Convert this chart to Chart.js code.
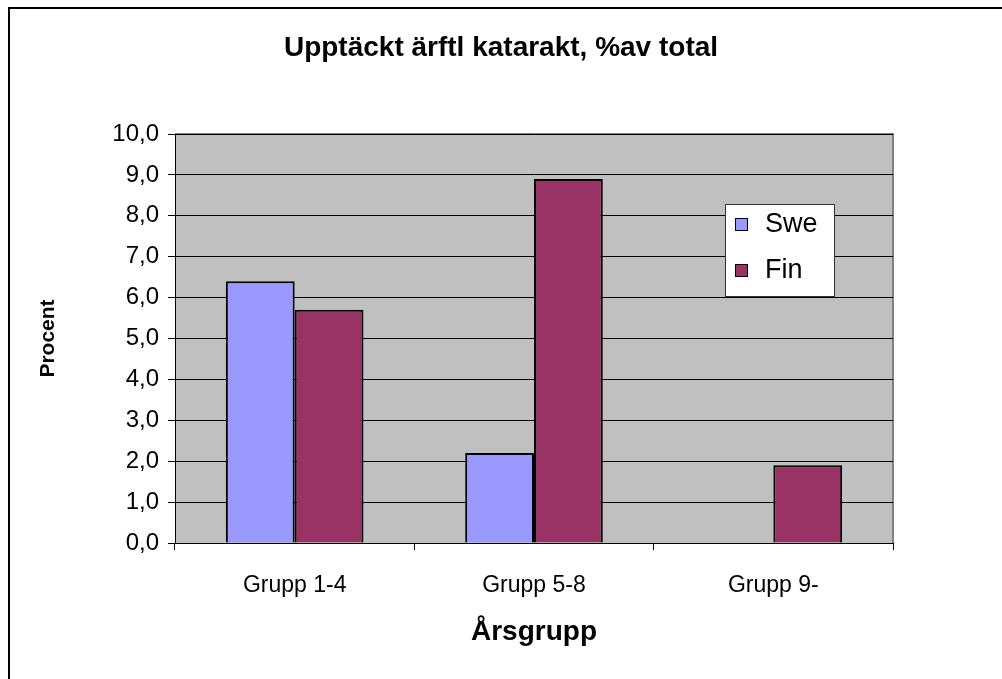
<!DOCTYPE html>
<html>
<head>
<meta charset="utf-8">
<script src="https://cdn.jsdelivr.net/npm/chart.js@4/dist/chart.umd.min.js"></script>
<style>
  body { margin: 0; background: #fff; }
  #wrap { position: relative; width: 1002px; height: 679px; }
  #frame { position: absolute; left: 8px; top: 7px; width: 1010px; height: 700px; border-left: 2px solid #000; border-top: 2px solid #000; }
  canvas { position: absolute; left: 0; top: 0; }
</style>
</head>
<body>
<div id="wrap">
  <div id="frame"></div>
  <canvas id="myChart" width="1002" height="679"></canvas>
</div>
<script>
// data läst från bilden
const grupper = ['Grupp 1-4', 'Grupp 5-8', 'Grupp 9-'];
const swe = [6.4, 2.2, null];
const fin = [5.7, 8.9, 1.9];
const serieNamn = ['Swe', 'Fin'];
const serieFarg = ['#9999FF', '#993366'];
const rubrik = 'Upptäckt ärftl katarakt, %av total';

const FONT = "'Liberation Sans', Arial, sans-serif";

// grå bakgrund i ritytan
const bakgrund = {
    id: 'bakgrund',
    beforeDraw(chart) {
        const a = chart.chartArea;
        const c = chart.ctx;
        c.save();
        c.fillStyle = '#C0C0C0';
        c.fillRect(a.left, a.top, a.right - a.left, a.bottom - a.top);
        c.strokeStyle = '#808080';
        c.lineWidth = 2;
        c.beginPath();
        c.moveTo(a.left, a.top);
        c.lineTo(a.right, a.top);
        c.lineTo(a.right, a.bottom);
        c.stroke();
        c.restore();
    }
};

// rubriken centrerad över hela bilden
const titel = {
    id: 'titel',
    afterDraw(chart) {
        const c = chart.ctx;
        c.save();
        c.font = 'bold 28px ' + FONT;
        c.fillStyle = '#000';
        c.textAlign = 'center';
        c.textBaseline = 'middle';
        c.fillText(rubrik, chart.width / 2, 48);
        c.restore();
    }
};

// legenden inne i ritytan
const legend = {
    id: 'egenLegend',
    afterDraw(chart) {
        const a = chart.chartArea;
        const c = chart.ctx;
        const x = a.left + 550, y = a.top + 70, w = 109, h = 92;
        c.save();
        c.fillStyle = '#fff';
        c.fillRect(x, y, w, h);
        c.strokeStyle = '#333';
        c.lineWidth = 1;
        c.strokeRect(x + 0.5, y + 0.5, w, h);
        c.font = '27px ' + FONT;
        c.textBaseline = 'middle';
        chart.data.datasets.forEach(function(ds, i) {
            const cy = y + 20 + i * 46;
            c.fillStyle = ds.backgroundColor;
            c.fillRect(x + 10, cy - 6, 13, 13);
            c.strokeStyle = '#000';
            c.strokeRect(x + 10.5, cy - 5.5, 12, 12);
            c.fillStyle = '#000';
            c.fillText(ds.label, x + 40, cy + 1);
        });
        c.restore();
    }
};

const ctx = document.getElementById('myChart').getContext('2d');
let chart = new Chart(ctx, {
    type: 'bar',
    data: {
        labels: grupper,
        datasets: [
            { label: serieNamn[0], data: swe, backgroundColor: serieFarg[0], borderColor: '#000', borderWidth: 2 },
            { label: serieNamn[1], data: fin, backgroundColor: serieFarg[1], borderColor: '#000', borderWidth: 2 }
        ]
    },
    options: {
        responsive: false,
        animation: false,
        categoryPercentage: 0.575,
        barPercentage: 1.0,
        layout: { padding: { left: 0, right: 109, top: 134, bottom: 0 } },
        plugins: {
            legend: { display: false },
            tooltip: { enabled: false },
            title: { display: false }
        },
        scales: {
            x: {
                grid: { display: true, drawOnChartArea: false, drawTicks: true, tickLength: 7, color: '#000' },
                border: { color: '#000', width: 1 },
                ticks: { color: '#000', font: { family: FONT, size: 23 }, padding: 22 },
                title: { display: true, text: 'Årsgrupp', color: '#000', font: { family: FONT, size: 28, weight: 'bold' }, padding: { top: 10, bottom: 30 } },
                afterFit(scale) { scale.height = 136; }
            },
            y: {
                min: 0,
                max: 10,
                grid: { color: '#000', lineWidth: 1, tickLength: 7 },
                border: { color: '#000', width: 1 },
                ticks: {
                    stepSize: 1,
                    color: '#000',
                    font: { family: FONT, size: 24 },
                    padding: 9,
                    callback: function(v) { return v.toFixed(1).replace('.', ','); }
                },
                title: { display: true, text: 'Procent', color: '#000', font: { family: FONT, size: 21, weight: 'bold' }, padding: { top: 36, bottom: 0 } },
                afterFit(scale) { scale.width = 175; }
            }
        }
    },
    plugins: [bakgrund, titel, legend]
});
</script>
</body>
</html>
